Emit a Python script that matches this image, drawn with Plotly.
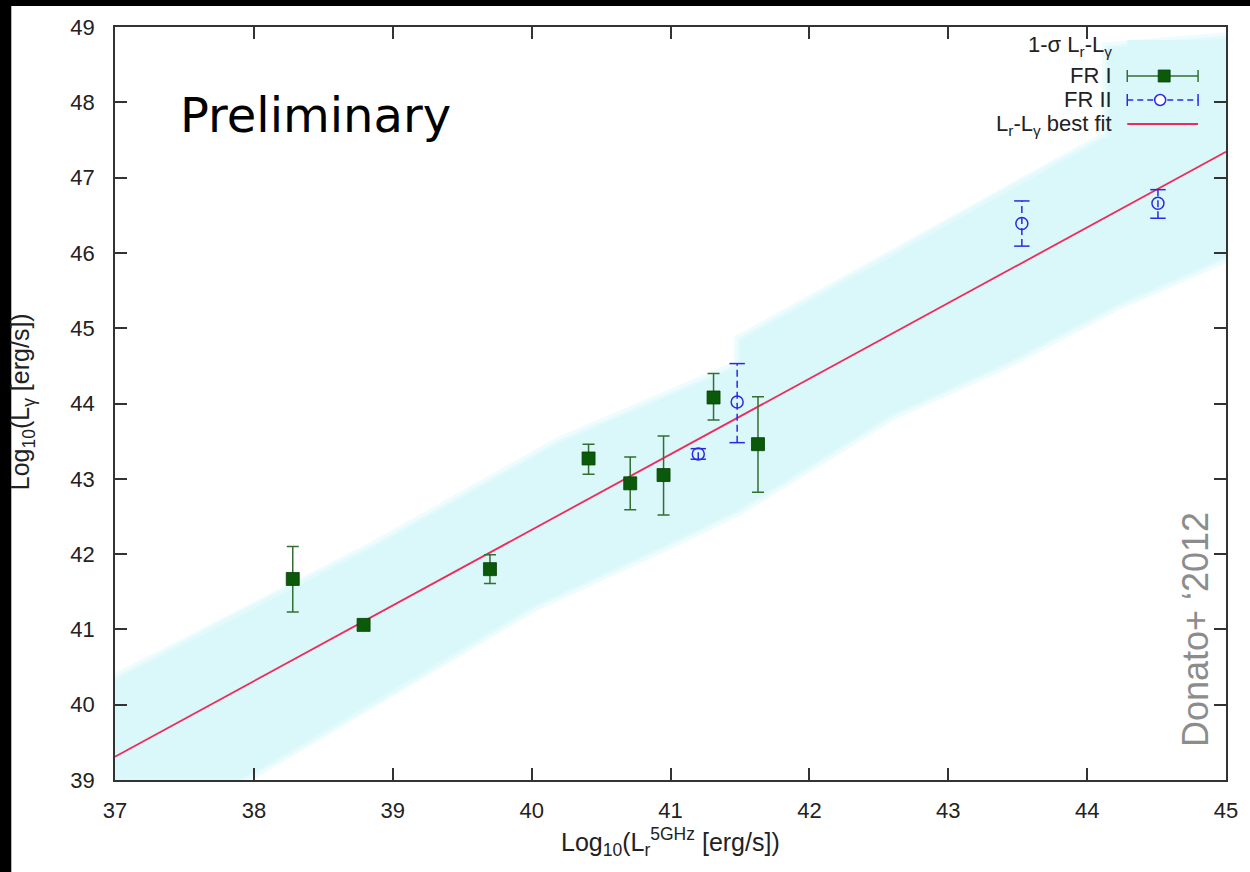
import plotly.graph_objects as go

# ---- data -------------------------------------------------------------
# FR I radio galaxies: log10 radio (5 GHz) vs log10 gamma-ray luminosity
fr1_x = [38.28, 38.79, 39.70, 40.41, 40.71, 40.95, 41.31, 41.63]
fr1_y = [41.67, 41.06, 41.80, 43.27, 42.94, 43.05, 44.08, 43.46]
fr1_err_hi = [0.43, 0.00, 0.19, 0.19, 0.35, 0.52, 0.32, 0.63]
fr1_err_lo = [0.44, 0.00, 0.19, 0.21, 0.35, 0.53, 0.30, 0.64]

# FR II radio galaxies
fr2_x = [41.20, 41.48, 43.53, 44.51]
fr2_y = [43.33, 44.02, 46.39, 46.66]
fr2_err_hi = [0.07, 0.51, 0.30, 0.18]
fr2_err_lo = [0.07, 0.54, 0.30, 0.20]

# best-fit L_r - L_gamma relation: y = slope * x + intercept
fit_slope = 1.004
fit_intercept = 2.162
fit_x = [37.0, 45.0]

# 1-sigma band edges
band_upper_x = [37.0, 38.0, 38.87, 40.2, 41.5, 41.5, 43.43, 44.15, 44.15, 45.0]
band_upper_y = [40.33, 41.30, 42.10, 43.48, 44.50, 44.84, 46.84, 47.55, 48.72, 48.85]
band_lower_x = [37.0, 38.0, 38.88, 40.0, 41.0, 41.5, 42.59, 43.43, 44.2, 45.0]
band_lower_y = [38.20, 39.10, 40.05, 41.30, 42.15, 42.60, 43.85, 44.55, 45.30, 45.95]

x_ticks = [37, 38, 39, 40, 41, 42, 43, 44, 45]
y_ticks = [39, 40, 41, 42, 43, 44, 45, 46, 47, 48, 49]

# ---- styling ----------------------------------------------------------
W, H = 1250, 872
ML, MR, MT, MB = 115, 21, 27, 92
PW, PH = W - ML - MR, H - MT - MB

BAND = "#daf8fa"
GREEN = "#0a5a0a"
GREEN_BAR = "#336e33"
BLUE = "#2a2ae6"
RED = "#f02a5a"
AXIS = "#333333"
FONT = "Liberation Sans, Arial, sans-serif"


def px(xp):
    return (xp - ML) / PW


def py(yp):
    return (H - MB - yp) / PH


fig = go.Figure()

# 1-sigma band (soft edge from a wide translucent outline)
band_x = band_upper_x + band_lower_x[::-1]
band_y = band_upper_y + band_lower_y[::-1]
fig.add_trace(go.Scatter(
    x=band_x, y=band_y, mode="lines", fill="toself",
    fillcolor=BAND, line=dict(color="rgba(218,248,250,0.45)", width=12),
    hoverinfo="skip", showlegend=False,
))
fig.add_trace(go.Scatter(
    x=band_x, y=band_y, mode="lines",
    line=dict(color="rgba(218,248,250,0.6)", width=5),
    hoverinfo="skip", showlegend=False,
))

# best-fit line
fig.add_trace(go.Scatter(
    x=fit_x, y=[fit_slope * v + fit_intercept for v in fit_x],
    mode="lines", line=dict(color=RED, width=1.8),
    showlegend=False,
))

# FR I points with error bars
fig.add_trace(go.Scatter(
    x=fr1_x, y=fr1_y, mode="markers",
    marker=dict(symbol="square", size=13, color=GREEN,
                line=dict(color="#064006", width=0.8)),
    error_y=dict(type="data", symmetric=False, array=fr1_err_hi,
                 arrayminus=fr1_err_lo, color=GREEN_BAR,
                 thickness=1.5, width=6),
    showlegend=False,
))

# FR II dashed error bars
bar_x, bar_y = [], []
for xv, yv, hi, lo in zip(fr2_x, fr2_y, fr2_err_hi, fr2_err_lo):
    bar_x += [xv, xv, None]
    bar_y += [yv - lo, yv + hi, None]
fig.add_trace(go.Scatter(
    x=bar_x, y=bar_y, mode="lines",
    line=dict(color=BLUE, width=1.5, dash="7px,4px"),
    hoverinfo="skip", showlegend=False,
))
fig.add_trace(go.Scatter(
    x=fr2_x + fr2_x,
    y=[yv + hi for yv, hi in zip(fr2_y, fr2_err_hi)]
      + [yv - lo for yv, lo in zip(fr2_y, fr2_err_lo)],
    mode="markers",
    marker=dict(symbol="line-ew", size=11, color=BLUE,
                line=dict(color=BLUE, width=1.5)),
    hoverinfo="skip", showlegend=False,
))
fig.add_trace(go.Scatter(
    x=fr2_x, y=fr2_y, mode="markers",
    marker=dict(symbol="circle-open", size=12, color=BLUE,
                line=dict(color=BLUE, width=1.5)),
    showlegend=False,
))

axis_common = dict(
    showline=True, linecolor=AXIS, linewidth=1.5, mirror="ticks",
    ticks="inside", ticklen=12, tickwidth=1.5, tickcolor=AXIS,
    showgrid=False, zeroline=False,
    tickfont=dict(family=FONT, size=22, color="#222222"),
)

fig.update_layout(
    width=W, height=H,
    margin=dict(l=ML, r=MR, t=MT, b=MB),
    paper_bgcolor="white", plot_bgcolor="white",
    xaxis=dict(range=[37, 45], tickvals=x_ticks, ticklabelstandoff=10,
               **axis_common),
    yaxis=dict(range=[39, 49], tickvals=y_ticks, ticklabelstandoff=14,
               **axis_common),
    showlegend=False,
)

shapes = []
annotations = []

# frame around the page
shapes.append(dict(type="rect", xref="paper", yref="paper",
                   x0=px(-20), x1=px(11), y0=py(H + 20), y1=py(-20),
                   fillcolor="black", line=dict(width=0), layer="above"))
shapes.append(dict(type="rect", xref="paper", yref="paper",
                   x0=px(-20), x1=px(W + 20), y0=py(6), y1=py(-20),
                   fillcolor="black", line=dict(width=0), layer="above"))

# key
kx0, kx1, kxm = 1130, 1201, 1167
shapes.append(dict(type="rect", xref="paper", yref="paper",
                   x0=px(kx0), x1=px(kx1), y0=py(54), y1=py(40),
                   fillcolor=BAND, line=dict(width=0), layer="above"))
# FR I sample
yk = 76
shapes += [
    dict(type="line", xref="paper", yref="paper", x0=px(kx0), x1=px(kx1),
         y0=py(yk), y1=py(yk), line=dict(color=GREEN_BAR, width=1.5), layer="above"),
    dict(type="line", xref="paper", yref="paper", x0=px(kx0), x1=px(kx0),
         y0=py(yk - 6), y1=py(yk + 6), line=dict(color=GREEN_BAR, width=1.5), layer="above"),
    dict(type="line", xref="paper", yref="paper", x0=px(kx1), x1=px(kx1),
         y0=py(yk - 6), y1=py(yk + 6), line=dict(color=GREEN_BAR, width=1.5), layer="above"),
    dict(type="rect", xref="paper", yref="paper", x0=px(kxm - 6), x1=px(kxm + 6),
         y0=py(yk + 6), y1=py(yk - 6), fillcolor=GREEN,
         line=dict(color="#064006", width=0.8), layer="above"),
]
# FR II sample
yk = 100
kxc = 1163
shapes += [
    dict(type="line", xref="paper", yref="paper", x0=px(kx0), x1=px(kx1),
         y0=py(yk), y1=py(yk), line=dict(color=BLUE, width=1.5, dash="6px,4px"),
         layer="above"),
    dict(type="line", xref="paper", yref="paper", x0=px(kx0), x1=px(kx0),
         y0=py(yk - 6), y1=py(yk + 6), line=dict(color=BLUE, width=1.5), layer="above"),
    dict(type="line", xref="paper", yref="paper", x0=px(kx1), x1=px(kx1),
         y0=py(yk - 6), y1=py(yk + 6), line=dict(color=BLUE, width=1.5), layer="above"),
    dict(type="circle", xref="paper", yref="paper", x0=px(kxc - 5.5), x1=px(kxc + 5.5),
         y0=py(yk + 5.5), y1=py(yk - 5.5), fillcolor="white",
         line=dict(color=BLUE, width=1.5), layer="above"),
]
# best-fit sample
yk = 124
shapes.append(dict(type="line", xref="paper", yref="paper", x0=px(kx0), x1=px(kx1),
                   y0=py(yk), y1=py(yk), line=dict(color=RED, width=1.8), layer="above"))

key_font = dict(family=FONT, size=22, color="#222222")
for text, ycen in [
    ("1-σ L<sub>r</sub>-L<sub>γ</sub>", 46),
    ("FR I", 75),
    ("FR II", 99),
    ("L<sub>r</sub>-L<sub>γ</sub> best fit", 125),
]:
    annotations.append(dict(text=text, xref="paper", yref="paper",
                            x=px(1117), y=py(ycen), xanchor="right", yanchor="middle",
                            showarrow=False, font=key_font))

# axis titles
annotations.append(dict(
    text="Log<sub>10</sub>(L<sub>r</sub><sup>5GHz</sup> [erg/s])",
    xref="paper", yref="paper", x=0.5, y=py(842),
    xanchor="center", yanchor="middle", showarrow=False,
    font=dict(family=FONT, size=25, color="#222222"),
))
annotations.append(dict(
    text="Log<sub>10</sub>(L<sub>γ</sub> [erg/s])",
    xref="paper", yref="paper", x=px(22), y=py(402),
    xanchor="center", yanchor="middle", textangle=-90, showarrow=False,
    font=dict(family=FONT, size=25, color="#222222"),
))

# overlays
annotations.append(dict(
    text="Preliminary", xref="paper", yref="paper", x=px(178), y=py(115),
    xanchor="left", yanchor="middle", showarrow=False,
    font=dict(family="Comic Sans MS, DejaVu Sans, sans-serif", size=48, color="black"),
))
annotations.append(dict(
    text="Donato+ \u20182012", xref="paper", yref="paper", x=px(1198), y=py(630),
    xanchor="center", yanchor="middle", textangle=-90, showarrow=False,
    font=dict(family=FONT, size=36, color="#8c8c8c"),
))

fig.update_layout(shapes=shapes, annotations=annotations)
fig.write_html("out.html")
